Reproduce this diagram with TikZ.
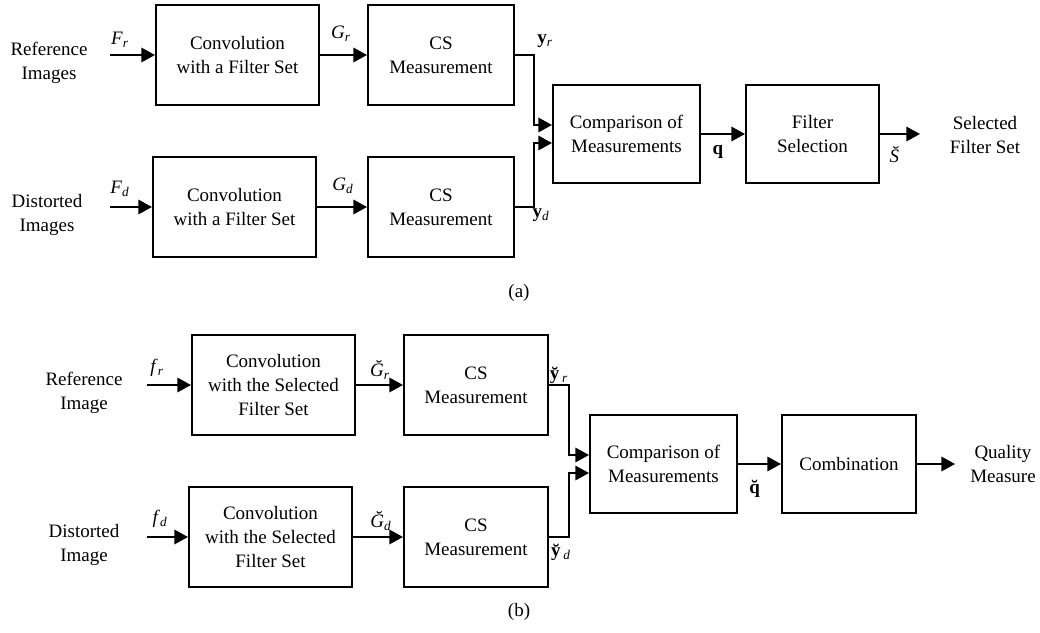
\documentclass[tikz,border=0pt]{standalone}
\usepackage{fontspec}
\setmainfont{Liberation Serif}
\usetikzlibrary{arrows.meta}

\begin{document}
\begin{tikzpicture}[x=0.025cm,y=-0.025cm,
every node/.style={font=\fontsize{13.5}{17}\selectfont,align=center},
box/.style={draw,line width=1.4pt,inner sep=0pt,minimum height=2.5cm},
arr/.style={line width=1.4pt,-{Triangle[length=3.4mm,width=3.6mm]}}
]
\useasboundingbox (0,0) rectangle (1040,632);

% (a) filter selection
\node[box,minimum width=4.075cm] (conva) at (237.5,55) {Convolution\\with a Filter Set};
\node[box,minimum width=3.65cm] (csa) at (441,55) {CS\\Measurement};
\node[box,minimum width=4.075cm] (convb) at (234.5,207) {Convolution\\with a Filter Set};
\node[box,minimum width=3.65cm] (csb) at (441,207) {CS\\Measurement};
\node[box,minimum width=3.675cm,minimum height=2.45cm] (cmpa) at (626.5,134) {Comparison of\\Measurements};
\node[box,minimum width=3.325cm,minimum height=2.45cm] (sel) at (812.5,134) {Filter\\Selection};
\node (refa) at (49,63) {Reference\\Images};
\node (disa) at (47,215) {Distorted\\Images};
\node (outa) at (985,135) {Selected\\Filter Set};
\node (capa) at (519,293) {(a)};
\coordinate (ina) at (110,55);
\coordinate (inb) at (110,207);
\coordinate (enda) at (920,134);

\draw[arr] (ina) -- (conva.west);
\draw[arr] (inb) -- (convb.west);
\draw[arr] (conva) -- (csa);
\draw[arr] (convb) -- (csb);
\draw[arr] (csa.east) -- ++(19,0) |- ([yshift=0.225cm]cmpa.west);
\draw[arr] (csb.east) -- ++(19,0) |- ([yshift=-0.225cm]cmpa.west);
\draw[arr] (cmpa) -- (sel);
\draw[arr] (sel) -- (enda);

\node (fra) at (120,40) {\textit{F}\textsubscript{\textit{r}}};
\node (fda) at (120,189) {\textit{F}\textsubscript{\textit{d}}};
\node (gra) at (341,34) {\textit{G}\textsubscript{\textit{r}}};
\node (gda) at (343,186) {\textit{G}\textsubscript{\textit{d}}};
\node (yra) at (545,41) {\textbf{y}\textsubscript{\textit{r}}};
\node (yda) at (541,215) {\textbf{y}\textsubscript{\textit{d}}};
\node (qa) at (718,152) {\textbf{q}};
\node (sa) at (898,155) {\textit{\u{S}}};

% (b) quality assessment
\node[box,minimum width=4.075cm] (convc) at (273.5,385) {Convolution\\with the Selected\\Filter Set};
\node[box,minimum width=3.6cm] (csc) at (476,385) {CS\\Measurement};
\node[box,minimum width=4.075cm] (convd) at (270.5,537) {Convolution\\with the Selected\\Filter Set};
\node[box,minimum width=3.6cm] (csd) at (476,537) {CS\\Measurement};
\node[box,minimum width=3.675cm,minimum height=2.45cm] (cmpb) at (663.5,464) {Comparison of\\Measurements};
\node[box,minimum width=3.35cm,minimum height=2.45cm] (comb) at (849,464) {Combination};
\node (refb) at (84,393) {Reference\\Image};
\node (disb) at (84,545) {Distorted\\Image};
\node (outb) at (1003,464) {Quality\\Measure};
\node (capb) at (519,612) {(b)};
\coordinate (inc) at (147,385);
\coordinate (ind) at (147,537);
\coordinate (endb) at (955,464);

\draw[arr] (inc) -- (convc.west);
\draw[arr] (ind) -- (convd.west);
\draw[arr] (convc) -- (csc);
\draw[arr] (convd) -- (csd);
\draw[arr] (csc.east) -- ++(20,0) |- ([yshift=0.225cm]cmpb.west);
\draw[arr] (csd.east) -- ++(20,0) |- ([yshift=-0.225cm]cmpb.west);
\draw[arr] (cmpb) -- (comb);
\draw[arr] (comb) -- (endb);

\node (frb) at (157,368) {\textit{f}\textsubscript{\textit{r}}};
\node (fdb) at (160,519) {\textit{f}\textsubscript{\textit{d}}};
\node (grb) at (380,370) {\textit{\u{G}}\textsubscript{\textit{r}}};
\node (gdb) at (381,521) {\textit{\u{G}}\textsubscript{\textit{d}}};
\node (yrb) at (559,375) {\textbf{\u{y}}\textsubscript{\textit{r}}};
\node (ydb) at (561,552) {\textbf{\u{y}}\textsubscript{\textit{d}}};
\node (qb) at (756,489) {\textbf{\u{q}}};
\end{tikzpicture}
\end{document}
